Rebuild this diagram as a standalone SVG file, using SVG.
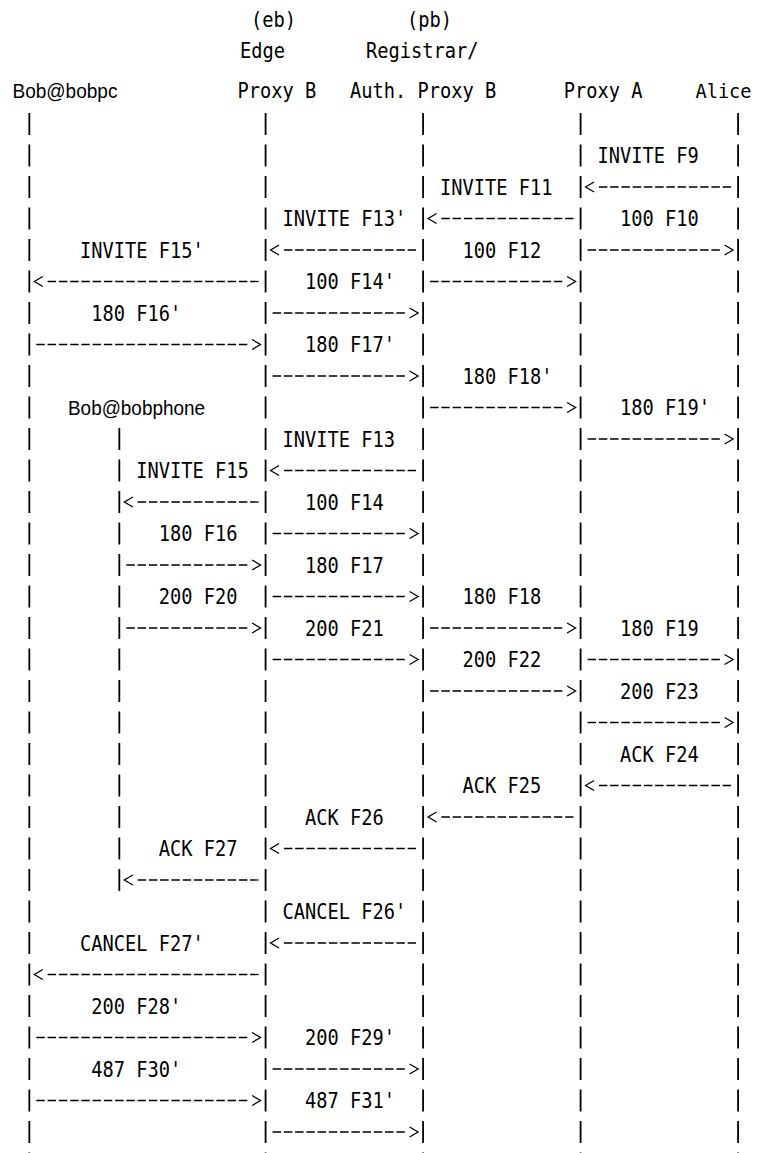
<svg xmlns="http://www.w3.org/2000/svg" width="757" height="1153" viewBox="0 0 757 1153">
<style>
.t{font-family:"DejaVu Sans Mono","Liberation Mono",monospace;font-size:22px;fill:#000}
.p{font-family:"Liberation Sans",Arial,sans-serif;font-size:21px;fill:#000}
.life{stroke:#000;stroke-width:1.8;stroke-dasharray:22 9.5;fill:none}
.dash{stroke:#000;stroke-width:1.3;stroke-dasharray:8.5 2.75;fill:none}
.head{stroke:#000;stroke-width:1.3;fill:none;stroke-linejoin:miter}
</style>
<rect width="757" height="1153" fill="#fff"/>
<g id="bob-pc"><text class="p" x="12.45" y="97.5" textLength="105" lengthAdjust="spacingAndGlyphs">Bob@bobpc</text></g>
<g id="edge-proxy-b">
<text class="t" x="251" y="26.5" textLength="45" lengthAdjust="spacingAndGlyphs">(eb)</text>
<text class="t" x="240" y="57.5" textLength="45" lengthAdjust="spacingAndGlyphs">Edge</text>
<text class="t" x="237.45" y="97.5" textLength="78.75" lengthAdjust="spacingAndGlyphs">Proxy B</text>
</g>
<g id="registrar-proxy-b">
<text class="t" x="407" y="26.5" textLength="45" lengthAdjust="spacingAndGlyphs">(pb)</text>
<text class="t" x="366" y="57.5" textLength="112.5" lengthAdjust="spacingAndGlyphs">Registrar/</text>
<text class="t" x="349.95" y="97.5" textLength="146.25" lengthAdjust="spacingAndGlyphs">Auth. Proxy B</text>
</g>
<g id="proxy-a"><text class="t" x="563.7" y="97.5" textLength="78.75" lengthAdjust="spacingAndGlyphs">Proxy A</text></g>
<g id="alice"><text class="t" x="695.5" y="97.5" style="font-size:20px" textLength="56" lengthAdjust="spacingAndGlyphs">Alice</text></g>
<g id="bob-phone"><text class="p" x="68" y="415" textLength="137" lengthAdjust="spacingAndGlyphs">Bob@bobphone</text></g>
<g id="lifelines">
<line class="life" x1="29.33" y1="113" x2="29.33" y2="1153"/>
<line class="life" x1="265.58" y1="113" x2="265.58" y2="1153"/>
<line class="life" x1="423.08" y1="113" x2="423.08" y2="1153"/>
<line class="life" x1="580.58" y1="113" x2="580.58" y2="1153"/>
<line class="life" x1="738.08" y1="113" x2="738.08" y2="1153"/>
<line class="life" x1="119.33" y1="428" x2="119.33" y2="891"/>
</g>
<g id="connectors">
<g><text class="t" x="597.45" y="163" textLength="101.25" lengthAdjust="spacingAndGlyphs">INVITE F9</text>
<line class="dash" x1="598.88" y1="187" x2="731.08" y2="187"/><polyline class="head" points="594.08,182 585.58,187 594.08,192"/></g>
<g><text class="t" x="439.95" y="194.5" textLength="112.5" lengthAdjust="spacingAndGlyphs">INVITE F11</text>
<line class="dash" x1="441.38" y1="218.5" x2="573.58" y2="218.5"/><polyline class="head" points="436.58,213.5 428.08,218.5 436.58,223.5"/></g>
<g><text class="t" x="619.95" y="226" textLength="78.75" lengthAdjust="spacingAndGlyphs">100 F10</text>
<line class="dash" x1="587.58" y1="250" x2="719.88" y2="250"/><polyline class="head" points="724.58,245 733.08,250 724.58,255"/></g>
<g><text class="t" x="282.45" y="226" textLength="123.75" lengthAdjust="spacingAndGlyphs">INVITE F13'</text>
<line class="dash" x1="283.88" y1="250" x2="416.08" y2="250"/><polyline class="head" points="279.08,245 270.58,250 279.08,255"/></g>
<g><text class="t" x="462.45" y="257.5" textLength="78.75" lengthAdjust="spacingAndGlyphs">100 F12</text>
<line class="dash" x1="430.08" y1="281.5" x2="562.38" y2="281.5"/><polyline class="head" points="567.08,276.5 575.58,281.5 567.08,286.5"/></g>
<g><text class="t" x="79.95" y="257.5" textLength="123.75" lengthAdjust="spacingAndGlyphs">INVITE F15'</text>
<line class="dash" x1="47.63" y1="281.5" x2="258.58" y2="281.5"/><polyline class="head" points="42.83,276.5 34.33,281.5 42.83,286.5"/></g>
<g><text class="t" x="304.95" y="289" textLength="90" lengthAdjust="spacingAndGlyphs">100 F14'</text>
<line class="dash" x1="272.58" y1="313" x2="404.88" y2="313"/><polyline class="head" points="409.58,308 418.08,313 409.58,318"/></g>
<g><text class="t" x="91.2" y="320.5" textLength="90" lengthAdjust="spacingAndGlyphs">180 F16'</text>
<line class="dash" x1="36.33" y1="344.5" x2="247.38" y2="344.5"/><polyline class="head" points="252.08,339.5 260.58,344.5 252.08,349.5"/></g>
<g><text class="t" x="304.95" y="352" textLength="90" lengthAdjust="spacingAndGlyphs">180 F17'</text>
<line class="dash" x1="272.58" y1="376" x2="404.88" y2="376"/><polyline class="head" points="409.58,371 418.08,376 409.58,381"/></g>
<g><text class="t" x="462.45" y="383.5" textLength="90" lengthAdjust="spacingAndGlyphs">180 F18'</text>
<line class="dash" x1="430.08" y1="407.5" x2="562.38" y2="407.5"/><polyline class="head" points="567.08,402.5 575.58,407.5 567.08,412.5"/></g>
<g><text class="t" x="619.95" y="415" textLength="90" lengthAdjust="spacingAndGlyphs">180 F19'</text>
<line class="dash" x1="587.58" y1="439" x2="719.88" y2="439"/><polyline class="head" points="724.58,434 733.08,439 724.58,444"/></g>
<g><text class="t" x="282.45" y="446.5" textLength="112.5" lengthAdjust="spacingAndGlyphs">INVITE F13</text>
<line class="dash" x1="283.88" y1="470.5" x2="416.08" y2="470.5"/><polyline class="head" points="279.08,465.5 270.58,470.5 279.08,475.5"/></g>
<g><text class="t" x="136.2" y="478" textLength="112.5" lengthAdjust="spacingAndGlyphs">INVITE F15</text>
<line class="dash" x1="137.63" y1="502" x2="258.58" y2="502"/><polyline class="head" points="132.83,497 124.33,502 132.83,507"/></g>
<g><text class="t" x="304.95" y="509.5" textLength="78.75" lengthAdjust="spacingAndGlyphs">100 F14</text>
<line class="dash" x1="272.58" y1="533.5" x2="404.88" y2="533.5"/><polyline class="head" points="409.58,528.5 418.08,533.5 409.58,538.5"/></g>
<g><text class="t" x="158.7" y="541" textLength="78.75" lengthAdjust="spacingAndGlyphs">180 F16</text>
<line class="dash" x1="126.33" y1="565" x2="247.38" y2="565"/><polyline class="head" points="252.08,560 260.58,565 252.08,570"/></g>
<g><text class="t" x="304.95" y="572.5" textLength="78.75" lengthAdjust="spacingAndGlyphs">180 F17</text>
<line class="dash" x1="272.58" y1="596.5" x2="404.88" y2="596.5"/><polyline class="head" points="409.58,591.5 418.08,596.5 409.58,601.5"/></g>
<g><text class="t" x="462.45" y="604" textLength="78.75" lengthAdjust="spacingAndGlyphs">180 F18</text>
<line class="dash" x1="430.08" y1="628" x2="562.38" y2="628"/><polyline class="head" points="567.08,623 575.58,628 567.08,633"/></g>
<g><text class="t" x="158.7" y="604" textLength="78.75" lengthAdjust="spacingAndGlyphs">200 F20</text>
<line class="dash" x1="126.33" y1="628" x2="247.38" y2="628"/><polyline class="head" points="252.08,623 260.58,628 252.08,633"/></g>
<g><text class="t" x="619.95" y="635.5" textLength="78.75" lengthAdjust="spacingAndGlyphs">180 F19</text>
<line class="dash" x1="587.58" y1="659.5" x2="719.88" y2="659.5"/><polyline class="head" points="724.58,654.5 733.08,659.5 724.58,664.5"/></g>
<g><text class="t" x="304.95" y="635.5" textLength="78.75" lengthAdjust="spacingAndGlyphs">200 F21</text>
<line class="dash" x1="272.58" y1="659.5" x2="404.88" y2="659.5"/><polyline class="head" points="409.58,654.5 418.08,659.5 409.58,664.5"/></g>
<g><text class="t" x="462.45" y="667" textLength="78.75" lengthAdjust="spacingAndGlyphs">200 F22</text>
<line class="dash" x1="430.08" y1="691" x2="562.38" y2="691"/><polyline class="head" points="567.08,686 575.58,691 567.08,696"/></g>
<g><text class="t" x="619.95" y="698.5" textLength="78.75" lengthAdjust="spacingAndGlyphs">200 F23</text>
<line class="dash" x1="587.58" y1="722.5" x2="719.88" y2="722.5"/><polyline class="head" points="724.58,717.5 733.08,722.5 724.58,727.5"/></g>
<g><text class="t" x="619.95" y="761.5" textLength="78.75" lengthAdjust="spacingAndGlyphs">ACK F24</text>
<line class="dash" x1="598.88" y1="785.5" x2="731.08" y2="785.5"/><polyline class="head" points="594.08,780.5 585.58,785.5 594.08,790.5"/></g>
<g><text class="t" x="462.45" y="793" textLength="78.75" lengthAdjust="spacingAndGlyphs">ACK F25</text>
<line class="dash" x1="441.38" y1="817" x2="573.58" y2="817"/><polyline class="head" points="436.58,812 428.08,817 436.58,822"/></g>
<g><text class="t" x="304.95" y="824.5" textLength="78.75" lengthAdjust="spacingAndGlyphs">ACK F26</text>
<line class="dash" x1="283.88" y1="848.5" x2="416.08" y2="848.5"/><polyline class="head" points="279.08,843.5 270.58,848.5 279.08,853.5"/></g>
<g><text class="t" x="158.7" y="856" textLength="78.75" lengthAdjust="spacingAndGlyphs">ACK F27</text>
<line class="dash" x1="137.63" y1="880" x2="258.58" y2="880"/><polyline class="head" points="132.83,875 124.33,880 132.83,885"/></g>
<g><text class="t" x="282.45" y="919" textLength="123.75" lengthAdjust="spacingAndGlyphs">CANCEL F26'</text>
<line class="dash" x1="283.88" y1="943" x2="416.08" y2="943"/><polyline class="head" points="279.08,938 270.58,943 279.08,948"/></g>
<g><text class="t" x="79.95" y="950.5" textLength="123.75" lengthAdjust="spacingAndGlyphs">CANCEL F27'</text>
<line class="dash" x1="47.63" y1="974.5" x2="258.58" y2="974.5"/><polyline class="head" points="42.83,969.5 34.33,974.5 42.83,979.5"/></g>
<g><text class="t" x="91.2" y="1013.5" textLength="90" lengthAdjust="spacingAndGlyphs">200 F28'</text>
<line class="dash" x1="36.33" y1="1037.5" x2="247.38" y2="1037.5"/><polyline class="head" points="252.08,1032.5 260.58,1037.5 252.08,1042.5"/></g>
<g><text class="t" x="304.95" y="1045" textLength="90" lengthAdjust="spacingAndGlyphs">200 F29'</text>
<line class="dash" x1="272.58" y1="1069" x2="404.88" y2="1069"/><polyline class="head" points="409.58,1064 418.08,1069 409.58,1074"/></g>
<g><text class="t" x="91.2" y="1076.5" textLength="90" lengthAdjust="spacingAndGlyphs">487 F30'</text>
<line class="dash" x1="36.33" y1="1100.5" x2="247.38" y2="1100.5"/><polyline class="head" points="252.08,1095.5 260.58,1100.5 252.08,1105.5"/></g>
<g><text class="t" x="304.95" y="1108" textLength="90" lengthAdjust="spacingAndGlyphs">487 F31'</text>
<line class="dash" x1="272.58" y1="1132" x2="404.88" y2="1132"/><polyline class="head" points="409.58,1127 418.08,1132 409.58,1137"/></g>
</g>
</svg>
